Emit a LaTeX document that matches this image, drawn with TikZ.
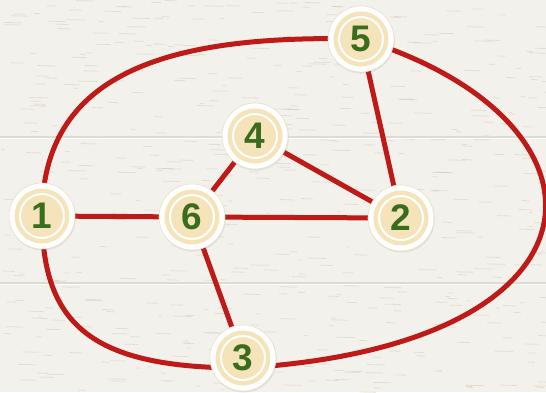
\documentclass[tikz,border=0pt]{standalone}
\usepackage{fontspec}
\usepackage{tikz}
\usetikzlibrary{shadows}
\newfontfamily\numfont{Liberation Sans}[BoldFont={* Bold}]
\definecolor{woodwhite}{RGB}{243,241,235}
\definecolor{plankline}{RGB}{222,219,212}
\definecolor{grainbrown}{RGB}{196,170,146}
\definecolor{edgered}{RGB}{190,26,24}
\definecolor{cream}{RGB}{245,228,186}
\definecolor{creamedge}{RGB}{236,222,196}
\definecolor{leafgreen}{RGB}{58,108,30}

\pgfdeclarelayer{wood}
\pgfdeclarelayer{edges}
\pgfsetlayers{wood,edges,main}

\tikzset{
    vertex/.style={circle, minimum size=66pt, inner sep=0pt, fill=white,
        draw=creamedge, line width=0.6pt,
        drop shadow={opacity=0.14, shadow xshift=0.8pt, shadow yshift=-1.6pt},
        font=\numfont\bfseries\fontsize{37}{37}\selectfont, text=leafgreen,
        path picture={
            \fill[cream] (path picture bounding box.center) circle (27.5pt);
            \draw[white, line width=2pt] (path picture bounding box.center) circle (22pt);
        }},
    link/.style={draw=edgered, line width=5pt}
}

\begin{document}
\begin{tikzpicture}[x=1pt, y=-1pt]
\useasboundingbox (0,0) rectangle (546,392);

% wooden boards
\begin{pgfonlayer}{wood}
\fill[woodwhite] (0,0) rectangle (546,392);
\pgfmathsetseed{42}
\foreach \k in {1,...,520}{
    \pgfmathsetmacro\sx{546*rnd}
    \pgfmathsetmacro\sy{392*rnd}
    \pgfmathsetmacro\sl{3+16*rnd}
    \draw[grainbrown, opacity=0.28, line width=0.8pt] (\sx,\sy) -- ++(\sl,0.4);
}
\foreach \py in {137,283}{
    \draw[plankline, line width=1.2pt] (0,\py) -- (546,\py);
    \draw[white, line width=1pt] (0,\py+1.6) -- (546,\py+1.6);
}
\end{pgfonlayer}

% vertices
\node[vertex] (n1) at (42,216) {1};
\node[vertex] (n6) at (192,217) {6};
\node[vertex] (n2) at (401,218) {2};
\node[vertex] (n4) at (255,136) {4};
\node[vertex] (n5) at (361,39) {5};
\node[vertex] (n3) at (243,358) {3};

% edges
\begin{pgfonlayer}{edges}
\draw[link] (n1.center) -- (n6.center);
\draw[link] (n6.center) -- (n2.center);
\draw[link] (n6.center) -- (n4.center);
\draw[link] (n4.center) -- (n2.center);
\draw[link] (n5.center) -- (n2.center);
\draw[link] (n6.center) -- (n3.center);
\draw[link] (n1.center) .. controls +(0,-140) and +(-200,-5) .. (n5.center);
\draw[link] (n5.center) .. controls +(264,81) and +(380,-23) .. ([yshift=-10pt]n3.center);
\draw[link] (n1.center) .. controls +(0,110) and +(-150,0) .. ([yshift=-10pt]n3.center);
\end{pgfonlayer}
\end{tikzpicture}
\end{document}
